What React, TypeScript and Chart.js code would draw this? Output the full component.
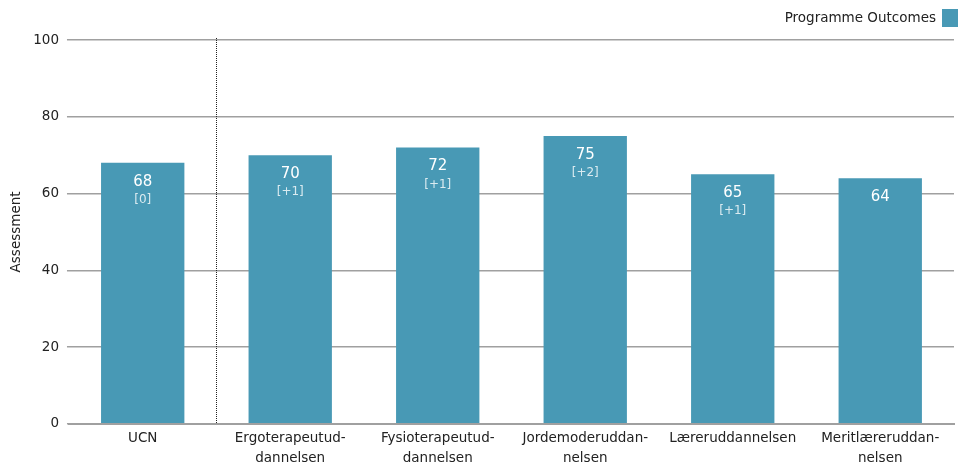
import React, { useEffect, useRef } from "react";
import { Chart, registerables } from "chart.js";

Chart.register(...registerables);

const categories: string[][] = [
  ["UCN"],
  ["Ergoterapeutud-", "dannelsen"],
  ["Fysioterapeutud-", "dannelsen"],
  ["Jordemoderuddan-", "nelsen"],
  ["Læreruddannelsen"],
  ["Meritlæreruddan-", "nelsen"],
];
const outcomes: number[] = [68, 70, 72, 75, 65, 64];
const changes: (string | null)[] = ["[0]", "[+1]", "[+1]", "[+2]", "[+1]", null];
const seriesName = "Programme Outcomes";
const yTicks: number[] = [0, 20, 40, 60, 80, 100];

const FONT = "Tahoma, 'DejaVu Sans', sans-serif";
const FS = 13.5;
const BAR_COLOR = "#4899b5";

const overlay = {
  id: "overlay",
  afterDatasetsDraw(chart: any) {
    const { ctx, chartArea, scales } = chart;
    const meta = chart.getDatasetMeta(0);
    ctx.save();
    // value labels inside bars
    meta.data.forEach((bar: any, i: number) => {
      ctx.textAlign = "center";
      ctx.textBaseline = "middle";
      ctx.fillStyle = "#ffffff";
      ctx.font = `15px ${FONT}`;
      ctx.fillText(String(outcomes[i]), bar.x, bar.y + 19);
      const c = changes[i];
      if (c) {
        ctx.fillStyle = "rgba(255,255,255,0.8)";
        ctx.font = `12px ${FONT}`;
        ctx.fillText(c, bar.x, bar.y + 37);
      }
    });
    // dotted separator after the first category
    const x = Math.round((scales.x.getPixelForValue(0) + scales.x.getPixelForValue(1)) / 2) + 0.5;
    ctx.strokeStyle = "#222222";
    ctx.lineWidth = 1;
    ctx.setLineDash([1, 1]);
    ctx.beginPath();
    ctx.moveTo(x, chartArea.top - 2);
    ctx.lineTo(x, chartArea.bottom);
    ctx.stroke();
    ctx.setLineDash([]);
    // legend at top right
    ctx.font = `${FS}px ${FONT}`;
    ctx.fillStyle = "#222222";
    ctx.textAlign = "right";
    ctx.textBaseline = "middle";
    const boxW = 16;
    const boxRight = chart.width - 9;
    ctx.fillText(seriesName, boxRight - boxW - 6, 18);
    ctx.fillStyle = BAR_COLOR;
    ctx.fillRect(boxRight - boxW, 9, boxW, 18);
    ctx.restore();
  },
};

export default function App() {
  const ref = useRef<HTMLCanvasElement>(null);
  useEffect(() => {
    if (!ref.current) return;
    const chart = new Chart(ref.current, {
      type: "bar",
      data: {
        labels: categories,
        datasets: [
          {
            label: seriesName,
            data: outcomes,
            backgroundColor: BAR_COLOR,
            categoryPercentage: 0.565,
            barPercentage: 1,
          },
        ],
      },
      options: {
        animation: false,
        responsive: true,
        maintainAspectRatio: false,
        layout: { padding: { top: 40, right: 13, left: 8, bottom: 1 } },
        plugins: { legend: { display: false }, tooltip: { enabled: false } },
        scales: {
          x: {
            grid: { display: false },
            border: { color: "#a0a0a0", width: 2 },
            ticks: {
              color: "#222222",
              font: { family: FONT, size: FS, lineHeight: 1.45 },
              maxRotation: 0,
              autoSkip: false,
              padding: -3,
            },
          },
          y: {
            min: 0,
            max: 100,
            afterBuildTicks: (axis: any) => {
              axis.ticks = yTicks.map((v) => ({ value: v }));
            },
            grid: { color: "#a0a0a0", lineWidth: 1.5, tickLength: 2, drawTicks: true },
            border: { display: false },
            ticks: { color: "#222222", font: { family: FONT, size: FS }, padding: 8 },
            title: {
              display: true,
              text: "Assessment",
              color: "#222222",
              font: { family: FONT, size: FS },
              padding: { top: 0, bottom: 1 },
            },
          },
        },
      },
      plugins: [overlay],
    });
    return () => chart.destroy();
  }, []);
  return (
    <div style={{ position: "fixed", left: 0, top: 0, width: 967, height: 466, background: "#fff" }}>
      <canvas ref={ref} />
    </div>
  );
}
